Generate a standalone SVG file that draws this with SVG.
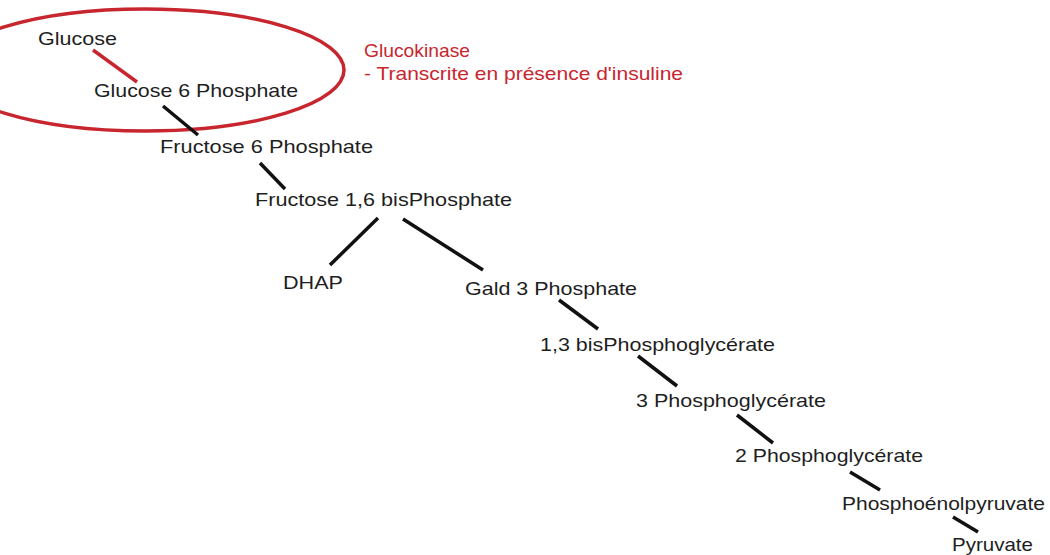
<svg xmlns="http://www.w3.org/2000/svg" width="1050" height="555" viewBox="0 0 1050 555">
<style>
text{font-family:"Liberation Sans",Arial,sans-serif;font-size:18.5px;fill:#1e1e1e}
.red{fill:#c8262f}
.c line{stroke:#111;stroke-width:3.5;stroke-linecap:butt}
</style>
<rect width="1050" height="555" fill="#fff"/>
<g id="annotation">
<ellipse cx="145" cy="70" rx="199" ry="61" fill="none" stroke="#c8262f" stroke-width="3.5"/>
<text class="red" x="364" y="57" textLength="106" lengthAdjust="spacingAndGlyphs">Glucokinase</text>
<text class="red" x="364" y="80" textLength="319" lengthAdjust="spacingAndGlyphs">- Transcrite en présence d'insuline</text>
</g>
<g class="c" id="connectors">
<line x1="93" y1="50" x2="137" y2="82" style="stroke:#c8262f"/>
<line x1="163" y1="106" x2="198" y2="135"/>
<line x1="260" y1="163" x2="285" y2="189"/>
<line x1="378" y1="218" x2="330" y2="265"/>
<line x1="403" y1="219" x2="483" y2="270"/>
<line x1="559" y1="300" x2="598" y2="329"/>
<line x1="638" y1="356" x2="677" y2="386"/>
<line x1="737" y1="415" x2="773" y2="443"/>
<line x1="850" y1="472" x2="880" y2="490"/>
<line x1="953" y1="517" x2="978" y2="532"/>
</g>
<g id="glucose"><text x="38" y="45" textLength="79" lengthAdjust="spacingAndGlyphs">Glucose</text></g>
<g id="g6p"><text x="94" y="97" textLength="204" lengthAdjust="spacingAndGlyphs">Glucose 6 Phosphate</text></g>
<g id="f6p"><text x="160" y="153" textLength="213" lengthAdjust="spacingAndGlyphs">Fructose 6 Phosphate</text></g>
<g id="f16bp"><text x="255" y="206" textLength="257" lengthAdjust="spacingAndGlyphs">Fructose 1,6 bisPhosphate</text></g>
<g id="dhap"><text x="283" y="289" textLength="60" lengthAdjust="spacingAndGlyphs">DHAP</text></g>
<g id="gald3p"><text x="465" y="295" textLength="172" lengthAdjust="spacingAndGlyphs">Gald 3 Phosphate</text></g>
<g id="bpg13"><text x="540" y="351" textLength="235" lengthAdjust="spacingAndGlyphs">1,3 bisPhosphoglycérate</text></g>
<g id="pg3"><text x="636" y="407" textLength="190" lengthAdjust="spacingAndGlyphs">3 Phosphoglycérate</text></g>
<g id="pg2"><text x="735" y="462" textLength="188" lengthAdjust="spacingAndGlyphs">2 Phosphoglycérate</text></g>
<g id="pep"><text x="842" y="510" textLength="203" lengthAdjust="spacingAndGlyphs">Phosphoénolpyruvate</text></g>
<g id="pyruvate"><text x="952" y="551" textLength="81" lengthAdjust="spacingAndGlyphs">Pyruvate</text></g>
</svg>
